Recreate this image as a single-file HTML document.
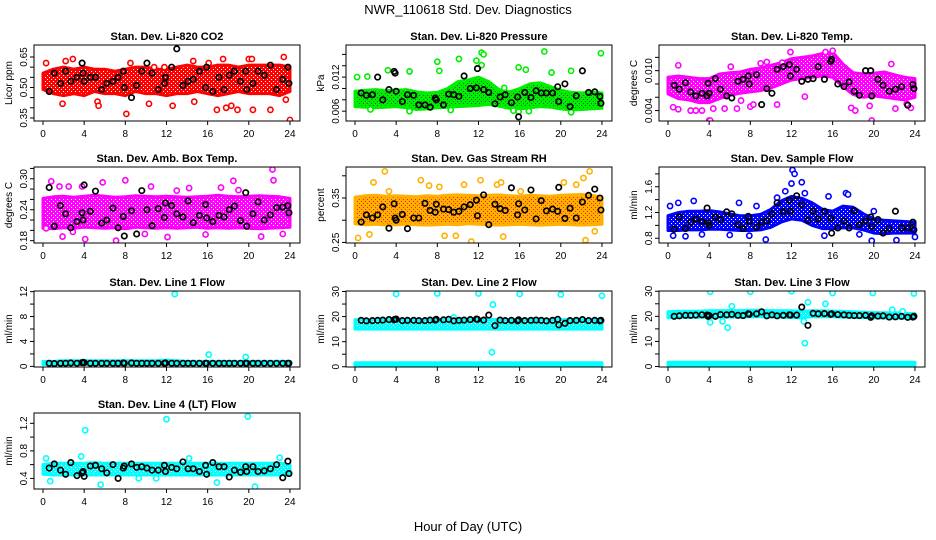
<!DOCTYPE html>
<html><head><meta charset="utf-8"><style>
body{margin:0;background:#fff;}
svg{display:block;font-family:"Liberation Sans",sans-serif;}
</style></head><body>
<svg id="chart" width="936" height="540" viewBox="0 0 936 540">
<text x="468" y="14" text-anchor="middle" font-size="13">NWR_110618 Std. Dev. Diagnostics</text>
<text x="468" y="531" text-anchor="middle" font-size="13">Hour of Day (UTC)</text>
</svg>
<script>
const BAND_HOURS=[0,1,2,3,4,5,6,7,8,9,10,11,12,13,14,15,16,17,18,19,20,21,22,23,24];
const BLACK_HOURS=[0.6,1.1,1.7,2.2,2.7,3.3,3.8,3.9,4.0,4.6,5.1,5.7,6.2,6.8,7.3,7.8,7.9,8.6,9.1,9.6,10.1,10.6,11.2,11.8,11.9,12.5,13.0,13.6,14.1,14.6,15.2,15.8,15.9,16.5,17.1,17.6,18.1,18.6,19.2,19.7,19.8,20.4,20.9,21.5,22.1,22.7,23.3,23.8,23.9];
const X_TICKS=[0,4,8,12,16,20,24];

const co2Lo=[0.49,0.47,0.46,0.47,0.46,0.48,0.47,0.47,0.46,0.48,0.47,0.47,0.46,0.47,0.47,0.48,0.47,0.46,0.47,0.48,0.47,0.47,0.47,0.46,0.48];
const co2Hi=[0.57,0.59,0.60,0.59,0.60,0.59,0.59,0.58,0.59,0.60,0.60,0.59,0.59,0.60,0.61,0.60,0.60,0.61,0.61,0.60,0.61,0.61,0.61,0.61,0.60];
const co2Out=[[0.3,0.62],[2.2,0.63],[2.9,0.64],[1.9,0.42],[5.3,0.43],[5.4,0.41],[8.1,0.37],[8.5,0.62],[10.3,0.42],[12.6,0.41],[14.7,0.43],[14.6,0.63],[16.9,0.39],[17.5,0.64],[17.8,0.40],[18.3,0.41],[18.9,0.39],[20.0,0.64],[20.3,0.64],[20.4,0.39],[22.1,0.39],[23.4,0.65],[24.0,0.34],[23.6,0.44],[16.1,0.62],[11.8,0.60],[10.8,0.60]];
const co2Black=[0.48,0.57,0.52,0.58,0.53,0.55,0.62,0.57,0.53,0.55,0.55,0.49,0.52,0.53,0.55,0.58,0.50,0.45,0.51,0.58,0.62,0.57,0.49,0.52,0.55,0.60,0.69,0.51,0.53,0.54,0.58,0.50,0.60,0.48,0.55,0.49,0.56,0.58,0.53,0.58,0.49,0.52,0.58,0.56,0.61,0.49,0.54,0.60,0.52];

const presLo=[0.0068,0.0067,0.0066,0.0067,0.0068,0.0066,0.0063,0.0064,0.0066,0.0067,0.0068,0.0069,0.0070,0.0072,0.0069,0.0065,0.0064,0.0066,0.0068,0.0067,0.0064,0.0062,0.0063,0.0064,0.0065];
const presHi=[0.0095,0.0097,0.0098,0.0096,0.0097,0.0098,0.0094,0.0092,0.0093,0.0100,0.0112,0.0115,0.0120,0.0112,0.0098,0.0094,0.0100,0.0108,0.0110,0.0103,0.0097,0.0093,0.0092,0.0094,0.0092];
const presOut=[[0.2,0.0120],[1.2,0.0121],[1.5,0.0063],[3.2,0.0132],[5.3,0.0130],[5.3,0.0060],[8.0,0.0147],[8.2,0.0131],[9.3,0.0062],[10.1,0.0152],[11.8,0.0149],[12.3,0.0163],[12.5,0.0160],[12.3,0.0141],[15.9,0.0137],[15.4,0.0061],[15.9,0.0059],[16.6,0.0133],[16.9,0.0060],[18.4,0.0165],[19.1,0.0128],[21.0,0.0131],[21.0,0.0058],[23.9,0.0162],[14.5,0.0101]];
const presBlack=[0.0092,0.0088,0.0089,0.0120,0.0080,0.0098,0.0130,0.0127,0.0095,0.0077,0.0089,0.0088,0.0071,0.0071,0.0067,0.0083,0.0080,0.0071,0.0090,0.0089,0.0086,0.0122,0.0100,0.0101,0.0135,0.0098,0.0093,0.0073,0.0085,0.0089,0.0075,0.0085,0.0050,0.0093,0.0084,0.0096,0.0092,0.0092,0.0092,0.0103,0.0077,0.0108,0.0068,0.0087,0.0131,0.0093,0.0094,0.0086,0.0074];

const tempLo=[0.0065,0.0058,0.0056,0.0052,0.0052,0.0058,0.0063,0.0066,0.0068,0.0070,0.0074,0.0080,0.0086,0.0088,0.0090,0.0092,0.0090,0.0076,0.0064,0.0060,0.0062,0.0060,0.0058,0.0056,0.0060];
const tempHi=[0.0090,0.0092,0.0090,0.0088,0.0088,0.0095,0.0097,0.0098,0.0102,0.0104,0.0108,0.0112,0.0118,0.0120,0.0122,0.0126,0.0128,0.0110,0.0097,0.0095,0.0096,0.0098,0.0094,0.0090,0.0088];
const tempOut=[[0.5,0.0045],[1.0,0.0042],[1.0,0.0108],[2.2,0.0040],[2.7,0.0040],[3.3,0.0040],[4.0,0.0025],[4.1,0.0025],[4.4,0.0043],[5.5,0.0043],[6.7,0.0043],[7.1,0.0055],[8.0,0.0046],[8.3,0.0049],[10.6,0.0049],[9.0,0.0111],[9.6,0.0113],[11.1,0.0112],[11.9,0.0128],[16.0,0.0130],[15.3,0.0128],[17.8,0.0044],[18.2,0.0040],[19.8,0.0025],[19.6,0.0047],[21.7,0.0110],[22.1,0.0043],[23.6,0.0044],[23.2,0.0050],[13.3,0.0061],[6.1,0.0106]];
const tempBlack=[0.0078,0.0072,0.0082,0.0068,0.0062,0.0066,0.0062,0.0081,0.0066,0.0088,0.0072,0.0062,0.0059,0.0084,0.0087,0.0092,0.0080,0.0094,0.0049,0.0073,0.0066,0.0102,0.0106,0.0109,0.0092,0.0102,0.0084,0.0087,0.0088,0.0106,0.0087,0.0114,0.0117,0.0080,0.0076,0.0083,0.0069,0.0063,0.0100,0.0100,0.0062,0.0087,0.0078,0.0069,0.0072,0.0076,0.0048,0.0079,0.0073];

const ambLo=[0.204,0.203,0.205,0.204,0.206,0.205,0.204,0.205,0.203,0.206,0.205,0.204,0.205,0.204,0.205,0.206,0.204,0.205,0.204,0.205,0.204,0.203,0.204,0.205,0.206];
const ambHi=[0.262,0.265,0.266,0.264,0.266,0.268,0.266,0.264,0.265,0.267,0.266,0.265,0.266,0.265,0.264,0.265,0.266,0.268,0.266,0.265,0.266,0.267,0.266,0.265,0.262];
const ambOut=[[0.8,0.295],[1.6,0.285],[1.9,0.188],[2.5,0.285],[3.8,0.285],[4.1,0.183],[5.8,0.293],[7.1,0.180],[8.0,0.297],[10.5,0.285],[12.1,0.187],[14.2,0.282],[15.8,0.192],[17.3,0.283],[18.5,0.296],[21.2,0.188],[22.3,0.318],[22.4,0.297],[23.3,0.193],[9.9,0.193],[19.0,0.278],[13.0,0.277],[0.3,0.204],[2.9,0.197]];
const ambBlack=[0.283,0.208,0.248,0.232,0.205,0.217,0.234,0.220,0.288,0.237,0.276,0.214,0.220,0.243,0.205,0.227,0.189,0.238,0.193,0.277,0.240,0.209,0.242,0.225,0.253,0.248,0.232,0.226,0.257,0.215,0.229,0.250,0.224,0.217,0.229,0.226,0.240,0.247,0.219,0.273,0.208,0.232,0.255,0.220,0.230,0.244,0.245,0.248,0.234];

const rhLo=[0.292,0.290,0.291,0.289,0.290,0.291,0.290,0.289,0.290,0.291,0.290,0.292,0.291,0.290,0.289,0.290,0.291,0.290,0.289,0.290,0.291,0.290,0.289,0.290,0.291];
const rhHi=[0.352,0.355,0.356,0.354,0.355,0.354,0.353,0.355,0.354,0.356,0.357,0.356,0.355,0.356,0.357,0.355,0.354,0.356,0.355,0.354,0.356,0.357,0.358,0.356,0.352];
const rhOut=[[0.3,0.26],[1.4,0.268],[1.8,0.385],[2.9,0.41],[3.3,0.365],[6.4,0.39],[7.2,0.378],[8.2,0.375],[8.7,0.265],[9.8,0.265],[10.6,0.38],[11.3,0.252],[12.2,0.39],[13.8,0.38],[14.2,0.385],[14.4,0.263],[16.1,0.365],[20.3,0.385],[22.2,0.395],[22.8,0.41],[22.4,0.255],[23.3,0.275],[21.5,0.38]];
const rhBlack=[0.296,0.312,0.305,0.312,0.330,0.282,0.337,0.305,0.300,0.313,0.281,0.305,0.305,0.338,0.322,0.318,0.336,0.325,0.324,0.318,0.320,0.330,0.335,0.345,0.310,0.357,0.290,0.336,0.326,0.322,0.373,0.312,0.337,0.323,0.368,0.303,0.344,0.321,0.325,0.320,0.374,0.304,0.327,0.305,0.341,0.356,0.370,0.350,0.323];

const flowLo=[0.92,0.92,0.93,0.93,0.94,0.94,0.93,0.92,0.92,0.93,0.97,1.05,1.10,1.08,1.00,0.95,0.95,0.96,0.96,0.93,0.88,0.87,0.88,0.88,0.88];
const flowHi=[1.15,1.20,1.22,1.22,1.23,1.21,1.18,1.15,1.15,1.17,1.25,1.38,1.45,1.42,1.35,1.25,1.22,1.30,1.28,1.18,1.10,1.08,1.07,1.06,1.05];
const flowOut=[[0.2,1.30],[0.5,0.84],[1.0,1.35],[1.7,0.83],[2.5,1.38],[3.3,0.86],[6.0,0.85],[6.9,1.35],[7.9,0.84],[8.6,1.30],[9.5,0.78],[10.6,1.43],[11.4,1.53],[12.1,1.86],[12.3,1.80],[12.0,1.65],[13.0,1.67],[13.3,1.50],[15.6,1.45],[15.2,0.84],[17.3,1.50],[17.5,1.48],[18.6,0.86],[19.8,0.76],[22.2,0.77],[24.0,0.82],[20.0,1.22]];
const flowBlack=[0.94,1.13,0.95,1.05,1.10,1.06,1.27,1.04,1.00,1.13,1.09,1.21,1.18,1.01,0.95,1.14,1.06,0.97,1.05,1.07,1.18,1.35,1.21,1.39,1.22,1.46,1.32,1.08,1.22,1.10,1.22,1.11,0.88,0.96,1.07,0.96,1.23,1.01,1.07,1.13,0.98,1.09,0.88,0.95,1.22,0.96,0.96,1.05,0.93];

const l1Lo=[0.3,0.3,0.3,0.3,0.3,0.3,0.3,0.3,0.3,0.3,0.3,0.3,0.3,0.3,0.3,0.3,0.3,0.3,0.3,0.3,0.3,0.3,0.3,0.3,0.3];
const l1Hi=[0.8,0.8,0.9,0.9,0.9,0.9,0.9,0.9,0.9,0.9,0.9,0.9,1.0,0.9,0.8,0.8,0.8,0.8,0.8,0.8,0.8,0.8,0.8,0.8,0.8];
const l1Out=[[12.8,11.6],[16.1,1.9],[19.7,1.5]];
const l1Black=[0.5,0.45,0.5,0.5,0.55,0.5,0.6,0.65,0.6,0.5,0.5,0.5,0.5,0.5,0.5,0.55,0.5,0.55,0.5,0.5,0.5,0.5,0.5,0.5,0.55,0.5,0.5,0.5,0.5,0.5,0.5,0.5,0.5,0.5,0.5,0.5,0.5,0.5,0.5,0.5,0.5,0.5,0.5,0.5,0.5,0.5,0.5,0.5,0.5];

const l2LoA=[0.4,0.4,0.4,0.4,0.4,0.4,0.4,0.4,0.4,0.4,0.4,0.4,0.4,0.4,0.4,0.4,0.4,0.4,0.4,0.4,0.4,0.4,0.4,0.4,0.4];
const l2HiA=[1.6,1.6,1.6,1.6,1.6,1.6,1.6,1.6,1.6,1.6,1.6,1.6,1.6,1.6,1.6,1.6,1.6,1.6,1.6,1.6,1.6,1.6,1.6,1.6,1.6];
const l2LoB=[15.0,15.0,15.0,15.0,15.0,15.0,15.0,15.0,15.0,15.0,15.0,15.0,15.0,15.0,15.0,15.0,15.0,15.0,15.0,15.0,15.0,15.0,15.0,15.0,15.0];
const l2HiB=[18.8,18.8,18.8,18.8,18.8,18.8,18.8,18.8,18.8,18.8,18.8,18.8,18.8,18.8,18.8,18.8,18.8,18.8,18.8,18.8,18.8,18.8,18.8,18.8,18.8];
const l2Out=[[4,29],[8,29.2],[12,29.2],[16,29],[20,28.8],[24,28.3],[13.3,5.8],[13.4,24.8],[9.6,19.6]];
const l2Black=[18.5,18.3,18.4,18.5,18.6,18.8,18.7,18.9,19.0,18.4,18.5,18.5,18.4,18.4,18.6,18.6,18.9,18.7,18.9,18.3,18.5,18.6,18.8,19.0,18.9,18.6,20.6,16.4,18.6,18.4,18.5,18.3,18.7,18.4,18.5,18.6,18.5,18.3,18.5,18.9,16.7,17.3,18.4,18.5,18.8,18.4,18.5,18.3,18.5];

const l3LoA=[0.5,0.5,0.5,0.5,0.5,0.5,0.5,0.5,0.5,0.5,0.5,0.5,0.5,0.5,0.5,0.5,0.5,0.5,0.5,0.5,0.5,0.5,0.5,0.5,0.5];
const l3HiA=[1.7,1.7,1.7,1.7,1.7,1.7,1.7,1.7,1.7,1.7,1.7,1.7,1.7,1.7,1.7,1.7,1.7,1.7,1.7,1.7,1.7,1.7,1.7,1.7,1.7];
const l3LoB=[19.5,19.5,19.6,19.6,19.6,19.7,19.7,19.7,19.8,19.8,19.8,19.7,19.5,19.4,19.8,19.8,19.8,19.7,19.6,19.5,19.4,19.3,19.3,19.2,19.2];
const l3HiB=[21.8,22.0,22.0,22.1,22.2,22.3,22.3,22.3,22.4,22.4,22.3,22.2,22.2,22.0,22.2,22.2,22.1,22.0,21.8,21.6,21.5,21.4,21.4,21.2,21.0];
const l3Out=[[4.1,29.8],[8,29.8],[12,30],[16,29.3],[19.9,29.3],[23.9,29.1],[13.3,9.3],[13.6,25.6],[4.1,17.6],[5.3,18],[5.8,15.5],[6.2,24],[15.3,25],[13.2,18],[21.8,22.6],[22.8,22]];
const l3Black=[20.0,20.2,20.4,20.4,20.5,20.6,20.5,20.0,20.3,20.0,20.7,20.6,20.8,20.4,20.3,21.0,20.8,21.0,21.8,20.2,20.6,20.2,20.4,20.6,20.5,20.5,23.7,16.4,21.2,21.0,21.1,20.8,21.0,20.7,20.6,20.4,20.3,20.3,20.4,19.6,20.2,20.1,20.2,19.7,19.8,20.0,19.6,19.7,20.0];

const l4Lo=[0.46,0.45,0.45,0.45,0.45,0.45,0.45,0.45,0.45,0.45,0.45,0.45,0.45,0.45,0.45,0.45,0.45,0.45,0.45,0.45,0.45,0.45,0.45,0.45,0.46];
const l4Hi=[0.60,0.62,0.62,0.62,0.62,0.63,0.62,0.62,0.62,0.62,0.62,0.62,0.62,0.62,0.62,0.62,0.62,0.62,0.62,0.62,0.62,0.62,0.62,0.62,0.60];
const l4Out=[[4.1,1.1],[12,1.26],[19.9,1.3],[3.7,0.72],[0.3,0.69],[5.6,0.31],[0.7,0.36],[16.9,0.34],[20.6,0.28],[23.0,0.70],[14.2,0.69],[9.3,0.40],[11.0,0.40]];
const l4Black=[0.55,0.61,0.52,0.46,0.63,0.44,0.48,0.50,0.43,0.58,0.59,0.54,0.48,0.60,0.40,0.55,0.58,0.61,0.56,0.57,0.55,0.52,0.52,0.59,0.50,0.56,0.54,0.64,0.54,0.54,0.50,0.59,0.46,0.63,0.57,0.57,0.42,0.52,0.49,0.57,0.50,0.57,0.50,0.51,0.54,0.60,0.41,0.65,0.47];

const panels=[
 {name:'co2',title:'Stan. Dev. Li-820 CO2',ylab:'Licor ppm',col:0,row:0,ymin:0.335,ymax:0.709,ticks:[0.35,0.40,0.45,0.50,0.55,0.60,0.65],labels:['0.35','0.50','0.65'],labelVals:[0.35,0.50,0.65],color:'#ff0000',dot:'#ffffff',bands:[[co2Lo,co2Hi]],out:co2Out,black:co2Black},
 {name:'pressure',title:'Stan. Dev. Li-820 Pressure',ylab:'kPa',col:1,row:0,ymin:0.00427,ymax:0.01765,ticks:[0.006,0.008,0.010,0.012,0.014,0.016],labels:['0.006','0.012'],labelVals:[0.006,0.012],color:'#00ee00',dot:'#116611',bands:[[presLo,presHi]],out:presOut,black:presBlack},
 {name:'temp',title:'Stan. Dev. Li-820 Temp.',ylab:'degrees C',col:2,row:0,ymin:0.00243,ymax:0.01386,ticks:[0.004,0.006,0.008,0.010,0.012],labels:['0.004','0.010'],labelVals:[0.004,0.010],color:'#ff00ff',dot:'#ffffff',bands:[[tempLo,tempHi]],out:tempOut,black:tempBlack},
 {name:'amb-box',title:'Stan. Dev. Amb. Box Temp.',ylab:'degrees C',col:0,row:1,ymin:0.1755,ymax:0.3228,ticks:[0.18,0.20,0.22,0.24,0.26,0.28,0.30,0.32],labels:['0.18','0.24','0.30'],labelVals:[0.18,0.24,0.30],color:'#ff00ff',dot:'#ffffff',bands:[[ambLo,ambHi]],out:ambOut,black:ambBlack},
 {name:'rh',title:'Stan. Dev. Gas Stream RH',ylab:'percent',col:1,row:1,ymin:0.2487,ymax:0.4198,ticks:[0.25,0.30,0.35,0.40],labels:['0.25','0.35'],labelVals:[0.25,0.35],color:'#ffb000',dot:'#ff2000',bands:[[rhLo,rhHi]],out:rhOut,black:rhBlack},
 {name:'sample-flow',title:'Stan. Dev. Sample Flow',ylab:'ml/min',col:2,row:1,ymin:0.726,ymax:1.907,ticks:[0.8,1.0,1.2,1.4,1.6,1.8],labels:['0.8','1.2','1.6'],labelVals:[0.8,1.2,1.6],color:'#0000ff',dot:'#ffffff',bands:[[flowLo,flowHi]],out:flowOut,black:flowBlack},
 {name:'line1',title:'Stan. Dev. Line 1 Flow',ylab:'ml/min',col:0,row:2,ymin:-0.1,ymax:12.1,ticks:[0,2,4,6,8,10,12],labels:['0','4','8','12'],labelVals:[0,4,8,12],color:'#00ffff',dot:'#ffffff',bands:[[l1Lo,l1Hi]],out:l1Out,black:l1Black},
 {name:'line2',title:'Stan. Dev. Line 2 Flow',ylab:'ml/min',col:1,row:2,ymin:-0.1,ymax:30.2,ticks:[0,5,10,15,20,25,30],labels:['0','10','20','30'],labelVals:[0,10,20,30],color:'#00ffff',dot:'#ffffff',bands:[[l2LoA,l2HiA],[l2LoB,l2HiB]],out:l2Out,black:l2Black},
 {name:'line3',title:'Stan. Dev. Line 3 Flow',ylab:'ml/min',col:2,row:2,ymin:-0.2,ymax:30.1,ticks:[0,5,10,15,20,25,30],labels:['0','10','20','30'],labelVals:[0,10,20,30],color:'#00ffff',dot:'#ffffff',bands:[[l3LoA,l3HiA],[l3LoB,l3HiB]],out:l3Out,black:l3Black},
 {name:'line4',title:'Stan. Dev. Line 4 (LT) Flow',ylab:'ml/min',col:0,row:3,ymin:0.246,ymax:1.35,ticks:[0.4,0.6,0.8,1.0,1.2],labels:['0.4','0.8','1.2'],labelVals:[0.4,0.8,1.2],color:'#00ffff',dot:'#ffffff',bands:[[l4Lo,l4Hi]],out:l4Out,black:l4Black}
];

const NS='http://www.w3.org/2000/svg';
const svg=document.getElementById('chart');
const COL_X0=[43,355,668], HOUR_PX=10.29, ROW_TOP=[45,167,291,413], BOX_H=76;
function mk(tag,attrs,parent){const e=document.createElementNS(NS,tag);for(const k in attrs)e.setAttribute(k,attrs[k]);parent.appendChild(e);return e;}
const defs=mk('defs',{},svg);

panels.forEach(p=>{
  const g=mk('g',{},svg);
  
  
  const x0=COL_X0[p.col], top=ROW_TOP[p.row], bot=top+BOX_H;
  const left=x0-9, right=x0+24*HOUR_PX+10;
  const xs=h=>x0+h*HOUR_PX;
  const ys=v=>bot-(v-p.ymin)/(p.ymax-p.ymin)*BOX_H;
  const clipId='clip-'+p.name, patId='pat-'+p.name;
  const cp=mk('clipPath',{id:clipId},defs);
  mk('rect',{x:left,y:top,width:right-left,height:BOX_H},cp);
  const pat=mk('pattern',{id:patId,width:4,height:4,patternUnits:'userSpaceOnUse'},defs);
  mk('rect',{x:0,y:0,width:4,height:4,fill:p.color},pat);
  mk('rect',{x:1,y:1,width:1,height:1,fill:p.dot},pat);
  mk('rect',{x:3,y:3,width:1,height:1,fill:p.dot},pat);
  const plot=mk('g',{'clip-path':'url(#'+clipId+')'},g);
  p.bands.forEach(([lo,hi])=>{
    let d='';
    BAND_HOURS.forEach((h,i)=>{d+=(i?'L':'M')+xs(h).toFixed(1)+','+ys(hi[i]).toFixed(1);});
    for(let i=BAND_HOURS.length-1;i>=0;i--)d+='L'+xs(BAND_HOURS[i]).toFixed(1)+','+ys(lo[i]).toFixed(1);
    const band=mk('path',{d:d+'Z',fill:'url(#'+patId+')',stroke:p.color,'stroke-width':3,'stroke-linejoin':'round'},plot);
    
    
  });
  p.out.forEach(([h,v])=>{
    const c=mk('circle',{cx:xs(h),cy:ys(v),r:2.6,fill:'#fff',stroke:p.color,'stroke-width':1.6},plot);
    
    
  });
  p.black.forEach((v,i)=>{
    const c=mk('circle',{cx:xs(BLACK_HOURS[i]),cy:ys(v),r:2.7,fill:'none',stroke:'#000','stroke-width':1.7},plot);
    
    
  });
  const box=mk('rect',{x:left,y:top,width:right-left,height:BOX_H,fill:'none',stroke:'#000','stroke-width':1},g);
  
  
  const t=mk('text',{x:(left+right)/2,y:top-5,'text-anchor':'middle','font-size':11,'font-weight':'bold'},g);
  t.textContent=p.title;
  
  
  X_TICKS.forEach(h=>{
    mk('line',{x1:xs(h),x2:xs(h),y1:bot,y2:bot+4,stroke:'#000'},g);
    const l=mk('text',{x:xs(h),y:bot+16,'text-anchor':'middle','font-size':10},g);
    l.textContent=h;
    
    
  });
  p.ticks.forEach(v=>{mk('line',{x1:left,x2:left-4,y1:ys(v),y2:ys(v),stroke:'#000'},g);});
  p.labelVals.forEach((v,i)=>{
    const yy=ys(v), xx=left-7;
    const l=mk('text',{x:xx,y:yy,'text-anchor':'middle','font-size':10,transform:'rotate(-90 '+xx+' '+yy+')'},g);
    l.textContent=p.labels[i];
    
    
  });
  const ax=left-22, ay=(top+bot)/2;
  const yl=mk('text',{x:ax,y:ay,'text-anchor':'middle','font-size':10,transform:'rotate(-90 '+ax+' '+ay+')'},g);
  yl.textContent=p.ylab;
  
  
});
</script>
</body></html>
